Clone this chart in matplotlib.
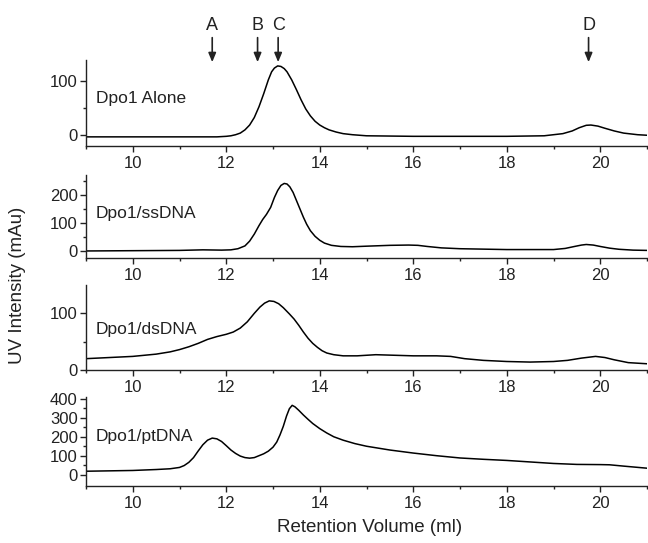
import numpy as np
import matplotlib.pyplot as plt
from matplotlib.ticker import FixedLocator, MultipleLocator

plt.rcParams["font.family"] = ["Liberation Sans", "DejaVu Sans"]

# retention volume (ml) and UV intensity (mAu) for each run
alone_x = [9, 10, 11, 11.8, 12.0, 12.1, 12.2, 12.3, 12.4, 12.5, 12.6, 12.7, 12.8, 12.9, 12.97,
           13.03, 13.1, 13.17, 13.24, 13.3, 13.4, 13.5, 13.6, 13.7, 13.8, 13.9, 14.0, 14.1,
           14.2, 14.35, 14.5, 14.7, 15, 16, 17, 18, 18.8, 19.0, 19.2, 19.4, 19.55, 19.7, 19.8,
           19.95, 20.1, 20.3, 20.5, 20.8, 21]
alone_y = [-3, -3, -3, -3, -2, -1, 1, 4, 10, 19, 33, 53, 77, 103, 118,
           125, 129, 128, 124, 118, 103, 85, 66, 49, 36, 26, 19, 14,
           10, 6, 3, 1, -1, -2, -2, -2, -1, 1, 3, 8, 14, 18.5, 19,
           17, 13, 8, 4, 1, 0]

ss_x = [9, 10, 11, 11.5, 11.9, 12.1, 12.25, 12.4, 12.5, 12.6, 12.7, 12.78, 12.86, 12.95, 13.03,
        13.1, 13.17, 13.24, 13.3, 13.36, 13.43, 13.5, 13.58, 13.65, 13.72, 13.8, 13.9, 14.0,
        14.1, 14.25, 14.45, 14.7, 15.0, 15.5, 15.9, 16.1, 16.3, 16.6, 17, 18, 19, 19.25,
        19.45, 19.6, 19.7, 19.85, 20.0, 20.2, 20.4, 20.7, 21]
ss_y = [0, 1, 2, 4, 3, 4, 8, 18, 35, 60, 90, 112, 130, 155, 190,
        215, 233, 240, 238, 228, 208, 180, 148, 120, 95, 72, 52, 38,
        28, 20, 16, 15, 17, 20, 21, 20, 16, 11, 8, 5, 5, 9,
        16, 21, 23, 21, 16, 10, 6, 3, 2]

ds_x = [9, 9.5, 10, 10.5, 10.8, 11, 11.2, 11.4, 11.6, 11.8, 12.0, 12.15, 12.3, 12.45, 12.6,
        12.72, 12.82, 12.92, 13.02, 13.12, 13.22, 13.35, 13.45, 13.55, 13.65, 13.75, 13.85,
        13.95, 14.05, 14.15, 14.3, 14.5, 14.8, 15.2, 15.6, 16, 16.5, 16.8, 17.1, 17.5, 18,
        18.5, 19, 19.3, 19.6, 19.9, 20.1, 20.3, 20.6, 21]
ds_y = [20, 22, 24, 28, 32, 36, 41, 47, 54, 59, 63, 67, 74, 85, 100,
        111, 118, 122, 121, 117, 110, 99, 90, 79, 67, 56, 47,
        40, 34, 30, 27, 25, 25, 27, 26, 25, 25, 24, 20, 17, 15,
        14, 15, 17, 21, 24, 22, 18, 13, 11]

pt_x = [9, 10, 10.5, 10.8, 11.0, 11.1, 11.2, 11.3, 11.4, 11.5, 11.6, 11.7, 11.8, 11.9, 12.0,
        12.1, 12.2, 12.3, 12.4, 12.5, 12.6, 12.7, 12.8, 12.9, 13.0, 13.08, 13.15, 13.22,
        13.29, 13.35, 13.41, 13.47, 13.55, 13.65, 13.75, 13.85, 14.0, 14.15, 14.3, 14.5,
        14.75, 15.0, 15.5, 16, 16.5, 17, 17.5, 18, 18.5, 19, 19.5, 20, 20.2, 20.5, 21]
pt_y = [18, 22, 27, 31, 38, 48, 65, 90, 125, 158, 182, 193, 189, 175, 153,
        130, 112, 98, 90, 87, 90, 100, 110, 124, 145, 172, 210, 255,
        310, 348, 366, 358, 340, 315, 292, 270, 243, 220, 200, 182,
        164, 150, 130, 114, 100, 88, 81, 75, 67, 59, 54, 53, 52, 45, 34]

labels = ["Dpo1 Alone", "Dpo1/ssDNA", "Dpo1/dsDNA", "Dpo1/ptDNA"]
ylims = [(-20, 140), (-25, 270), (0, 150), (-60, 410)]
major_ticks = [[0, 100], [0, 100, 200], [0, 100], [0, 100, 200, 300, 400]]
minor_ticks = [[50], [50, 150, 250], [50], [50, 150, 250, 350]]
text_y = [0.55, 0.54, 0.48, 0.56]

# marker arrows over the top panel
marker_names = ["A", "B", "C", "D"]
marker_pos = [11.7, 12.67, 13.11, 19.75]

series = [(alone_x, alone_y), (ss_x, ss_y), (ds_x, ds_y), (pt_x, pt_y)]

fig = plt.figure(figsize=(6.48, 5.43), dpi=100)
# panel (top, bottom) in pixels
boxes = [(60, 146), (175, 258), (285, 370), (397, 486)]
H = 543.0
axes = []
for (top, bot) in boxes:
    ax = fig.add_axes([86 / 648, 1 - bot / H, 561 / 648, (bot - top) / H])
    axes.append(ax)

for i, ax in enumerate(axes):
    x, y = series[i]
    ax.plot(x, y, color="black", lw=1.1)
    ax.set_xlim(9, 21)
    ax.set_ylim(*ylims[i])
    ax.yaxis.set_major_locator(FixedLocator(major_ticks[i]))
    ax.yaxis.set_minor_locator(FixedLocator(minor_ticks[i]))
    ax.xaxis.set_major_locator(MultipleLocator(2))
    ax.xaxis.set_minor_locator(MultipleLocator(1))
    ax.spines["top"].set_visible(False)
    ax.spines["right"].set_visible(False)
    for s in ["left", "bottom"]:
        ax.spines[s].set_linewidth(1.0)
        ax.spines[s].set_color("#222222")
    ax.tick_params(which="major", length=4, width=1, labelsize=12, color="#222222",
                   labelcolor="#222222")
    ax.tick_params(which="minor", length=2.4, width=1, color="#222222")
    ax.tick_params(axis="x", pad=3)
    ax.tick_params(axis="y", pad=2)
    ax.text(0.017, text_y[i], labels[i], transform=ax.transAxes, fontsize=12.5,
            va="center", ha="left", color="#222222")

ax0 = axes[0]
tr = ax0.get_xaxis_transform()
for name, xpos in zip(marker_names, marker_pos):
    ax0.annotate("", xy=(xpos, 0.975), xytext=(xpos, 1.26), xycoords=tr, textcoords=tr,
                 arrowprops=dict(arrowstyle="-|>,head_width=0.25,head_length=0.6",
                                 color="#222222", lw=1.2, mutation_scale=9,
                                 shrinkA=0, shrinkB=0),
                 annotation_clip=False)
    ax0.text(xpos, 1.40, name, transform=tr, ha="center", va="center", fontsize=13,
             color="#222222", clip_on=False)

fig.text(370 / 648, 1 - 528 / H, "Retention Volume (ml)", ha="center", va="center",
         fontsize=13.5, color="#222222")
fig.text(18 / 648, 1 - 285 / H, "UV Intensity (mAu)", ha="center", va="center",
         rotation=90, fontsize=13.5, color="#222222")

fig.savefig("out.png", dpi=100)
